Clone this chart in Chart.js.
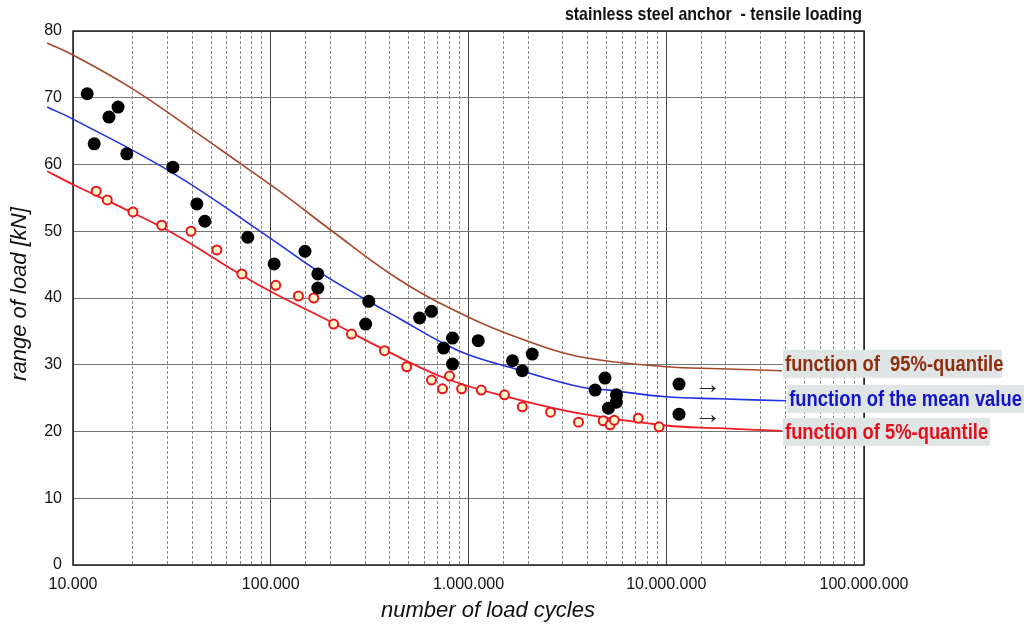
<!DOCTYPE html>
<html>
<head>
<meta charset="utf-8">
<script src="https://cdn.jsdelivr.net/npm/chart.js@4"></script>
<style>
  html, body { margin: 0; padding: 0; background: #fff; }
  #wrap { width: 1024px; height: 624px; }
</style>
</head>
<body>
<div id="wrap"><canvas id="myChart" width="1024" height="624"></canvas></div>
<script>
// test results (black dots), last two are run-outs
let testCycles = [11800, 12800, 15200, 16900, 18700, 32000, 42300, 46400, 76500, 104000, 149000, 173000, 173000, 302000, 313000, 566000, 650000, 748000, 830000, 830000, 1120000, 1670000, 1870000, 2100000, 4370000, 4900000, 5100000, 5590000, 5600000];
let testLoads = [70.6, 63.1, 67.1, 68.6, 61.6, 59.6, 54.1, 51.5, 49.1, 45.1, 47.0, 43.6, 41.5, 36.1, 39.5, 37.0, 38.0, 32.5, 34.0, 30.1, 33.6, 30.6, 29.1, 31.6, 26.2, 28.0, 23.5, 24.4, 25.5];
let runoutCycles = [11600000, 11600000];
let runoutLoads = [27.1, 22.6];

// 5% values (open red circles)
let lowCycles = [13100, 14900, 20100, 28100, 39500, 53400, 71400, 106000, 138000, 165000, 208000, 256000, 376000, 487000, 650000, 739000, 802000, 923000, 1160000, 1520000, 1870000, 2600000, 3600000, 4800000, 5200000, 5460000, 7220000, 9200000];
let lowLoads = [56.0, 54.7, 52.9, 50.9, 50.0, 47.2, 43.6, 41.9, 40.3, 40.0, 36.1, 34.6, 32.1, 29.7, 27.7, 26.4, 28.3, 26.4, 26.2, 25.5, 23.7, 22.9, 21.4, 21.6, 21.0, 21.7, 22.0, 20.7];

// fitted functions
let q95Cycles = [7400, 10000, 20100, 38900, 69700, 120500, 198600, 448700, 988600, 1919000, 3640000, 10000000, 18500000, 38500000];
let q95Loads = [78.2, 76.4, 71.3, 65.5, 60.2, 55.2, 50.3, 42.7, 37.2, 33.7, 31.2, 29.7, 29.4, 29.1];
let meanCycles = [7400, 10000, 32000, 100000, 177800, 291700, 448700, 714500, 1000000, 1667000, 3640000, 5150000, 10000000, 18500000, 40400000];
let meanLoads = [68.6, 66.8, 58.7, 48.9, 43.8, 40.0, 36.9, 33.5, 31.5, 29.5, 26.7, 26.2, 25.2, 24.9, 24.6];
let q5Cycles = [7400, 10000, 17800, 32000, 71400, 101000, 205600, 355600, 774500, 1667000, 3640000, 10000000, 18500000, 38500000];
let q5Loads = [59.0, 57.0, 53.5, 49.7, 43.4, 40.9, 36.3, 32.6, 27.9, 25.0, 22.7, 20.9, 20.5, 20.1];

let curveNames = ['function of  95%-quantile', 'function of the mean value', 'function of 5%-quantile'];
let chartTitle = 'stainless steel anchor  - tensile loading';
let xTitle = 'number of load cycles';
let yTitle = 'range of load [kN]';

const SANS = "'Liberation Sans', Arial, sans-serif";

function pts(xs, ys) { return xs.map((x, i) => ({x: x, y: ys[i]})); }
function isPow10(v) { let l = Math.log10(v); return Math.abs(l - Math.round(l)) < 1e-9; }
function fmt(v) { return Math.round(v).toString().replace(/\B(?=(\d{3})+(?!\d))/g, '.'); }

// narrow text: the original uses a condensed face
function narrowText(c, txt, x, y, sx) {
    c.save();
    c.translate(x, y);
    c.scale(sx, 1);
    c.fillText(txt, 0, 0);
    c.restore();
}

const extras = {
    id: 'extras',
    beforeDatasetsDraw(chart) {
        const a = chart.chartArea, c = chart.ctx;
        c.save();
        c.strokeStyle = '#222';
        c.lineWidth = 1.5;
        c.strokeRect(a.left, a.top, a.right - a.left, a.bottom - a.top);
        c.restore();
    },
    afterDraw(chart) {
        const c = chart.ctx;
        const xs = chart.scales.x, ys = chart.scales.y;
        c.save();
        // title
        c.fillStyle = '#111';
        c.font = 'bold 19px ' + SANS;
        c.textAlign = 'right';
        c.textBaseline = 'middle';
        narrowText(c, chartTitle, 862, 15, 0.84);
        // axis titles
        c.font = 'italic 22px ' + SANS;
        c.textAlign = 'center';
        c.fillText(xTitle, 488, 611);
        c.save();
        c.translate(20, 294);
        c.rotate(-Math.PI / 2);
        c.fillText(yTitle, 0, 0);
        c.restore();
        // run-out arrows
        c.font = '27px ' + SANS;
        c.fillStyle = '#222';
        c.textAlign = 'left';
        runoutCycles.forEach((x, i) => {
            c.fillText('\u2192', xs.getPixelForValue(x) + 15, ys.getPixelForValue(runoutLoads[i]) + 1);
        });
        // labels at the curve ends
        const labels = [
            {ds: 2, color: '#8e2e0e', dy: -7, w: 219},
            {ds: 3, color: '#1414c8', dy: -2, w: 240},
            {ds: 4, color: '#e3101c', dy: 1, w: 207}
        ];
        c.font = 'bold 22px ' + SANS;
        labels.forEach((l, i) => {
            const meta = chart.getDatasetMeta(l.ds);
            const last = meta.data[meta.data.length - 1];
            const x0 = last.x + 1, yc = last.y + l.dy;
            c.fillStyle = '#dfe4e4';
            c.fillRect(x0, yc - 14, l.w, 28);
            c.fillStyle = l.color;
            narrowText(c, curveNames[i], x0 + 2, yc + 1, 0.835);
        });
        c.restore();
    }
};

let ctx = document.getElementById('myChart');

new Chart(ctx, {
    type: 'scatter',
    data: {
        datasets: [
            {
                label: 'tests',
                data: pts(testCycles, testLoads).concat(pts(runoutCycles, runoutLoads)),
                backgroundColor: '#000',
                borderColor: '#000',
                pointRadius: 6.5,
                pointBorderWidth: 0,
                order: 1
            },
            {
                label: '5% values',
                data: pts(lowCycles, lowLoads),
                backgroundColor: '#fffbcc',
                borderColor: '#e8141c',
                pointRadius: 4.5,
                pointBorderWidth: 2,
                order: 2
            },
            {
                label: curveNames[0],
                data: pts(q95Cycles, q95Loads),
                showLine: true,
                borderColor: '#a5482a',
                borderWidth: 1.6,
                pointRadius: 0,
                tension: 0.4,
                clip: false,
                order: 5
            },
            {
                label: curveNames[1],
                data: pts(meanCycles, meanLoads),
                showLine: true,
                borderColor: '#2030e0',
                borderWidth: 1.6,
                pointRadius: 0,
                tension: 0.4,
                clip: false,
                order: 4
            },
            {
                label: curveNames[2],
                data: pts(q5Cycles, q5Loads),
                showLine: true,
                borderColor: '#ee1c24',
                borderWidth: 1.8,
                pointRadius: 0,
                tension: 0.4,
                clip: false,
                order: 3
            }
        ]
    },
    options: {
        responsive: false,
        animation: false,
        layout: { padding: { top: 31, right: 160, left: 0, bottom: 0 } },
        plugins: {
            legend: { display: false },
            title: { display: false },
            tooltip: { enabled: false }
        },
        scales: {
            x: {
                type: 'logarithmic',
                min: 10000,
                max: 100000000,
                afterFit: s => { s.height = 59; },
                border: {
                    display: false,
                    dash: c => (c.tick && !isPow10(c.tick.value)) ? [3, 2] : []
                },
                grid: {
                    drawTicks: false,
                    color: c => (c.tick && isPow10(c.tick.value)) ? '#444' : '#8a8a8a',
                    lineWidth: 1
                },
                ticks: {
                    autoSkip: false,
                    maxRotation: 0,
                    padding: 10,
                    color: '#111',
                    font: { family: SANS, size: 16 },
                    callback: v => isPow10(v) ? fmt(v) : ''
                }
            },
            y: {
                min: 0,
                max: 80,
                afterFit: s => { s.width = 73; },
                border: { display: false },
                grid: {
                    drawTicks: false,
                    color: '#777',
                    lineWidth: 1
                },
                ticks: {
                    stepSize: 10,
                    padding: 11,
                    color: '#111',
                    font: { family: SANS, size: 16 }
                }
            }
        }
    },
    plugins: [extras]
});
</script>
</body>
</html>
